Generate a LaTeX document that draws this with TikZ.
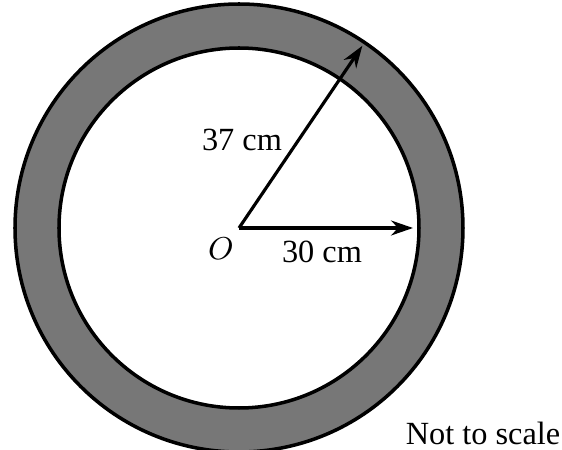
\documentclass[tikz,border=0pt]{standalone}
\usepackage{fontspec}
\setmainfont{Liberation Serif}
\usepackage{xcolor}
\usepackage{tikz}
\usetikzlibrary{arrows.meta, calc}
\definecolor{ringgray}{RGB}{119,119,119}

\begin{document}
\begin{tikzpicture}[scale=1.0, every node/.style={font=\fontsize{9.2}{11}\selectfont, inner sep=0pt},
  radius arrow/.style={-{Stealth[length=2.2mm, width=1.5mm]}, line width=0.9pt}]
\useasboundingbox (0,0) rectangle (5.62,4.5);
% centre of the ring
\coordinate (O) at (2.39,2.22);
% shaded ring between the two circles
\fill[ringgray, even odd rule] (O) circle (2.24) (O) circle (1.80);
\draw[line width=1pt] (O) circle (2.24);
\draw[line width=1pt] (O) circle (1.80);
% radii
\coordinate (outer tip) at ($(O)+(55.9:2.20)$);
\coordinate (inner tip) at ($(O)+(0:1.74)$);
\draw[radius arrow] (O) -- (outer tip);
\draw[radius arrow] (O) -- (inner tip);
% labels
\node (centre label) at (2.21,2.01) {$O$};
\node (outer label) at (2.42,3.10) {37 cm};
\node (inner label) at (3.22,1.98) {30 cm};
\node (scale note) at (4.83,0.17) {Not to scale};
\end{tikzpicture}
\end{document}
